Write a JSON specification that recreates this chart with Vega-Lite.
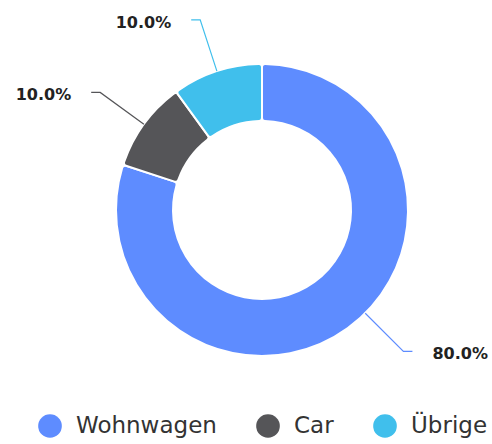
{
  "$schema": "https://vega.github.io/schema/vega-lite/v6.json",
  "width": 460,
  "height": 420,
  "autosize": {"type": "none"},
  "padding": {"left": 32, "top": 0, "right": 0, "bottom": 24},
  "background": "white",
  "config": {"view": {"stroke": null}},
  "data": {
    "values": [
      {"category": "Wohnwagen", "value": 80},
      {"category": "Car", "value": 10},
      {"category": "Übrige", "value": 10}
    ]
  },
  "transform": [
    {"calculate": "indexof(['Wohnwagen','Car','Übrige'], datum.category)", "as": "ord"},
    {"joinaggregate": [{"op": "sum", "field": "value", "as": "total"}]},
    {"window": [{"op": "sum", "field": "value", "as": "cum"}], "sort": [{"field": "ord"}], "frame": [null, 0]},
    {"calculate": "(datum.cum - datum.value / 2) / datum.total * 2 * PI", "as": "mid"},
    {"calculate": "datum.mid > PI / 2 && datum.mid < PI ? min(datum.mid, 3 * PI / 4) : datum.mid", "as": "lang"},
    {"calculate": "sin(datum.lang) >= 0 ? 1 : -1", "as": "side"},
    {"calculate": "format(datum.value / datum.total, '.1%')", "as": "pct"}
  ],
  "layer": [
    {
      "mark": {"type": "arc", "innerRadius": 89, "outerRadius": 146, "cornerRadius": 3, "stroke": "white", "strokeWidth": 2},
      "encoding": {
        "theta": {"field": "value", "type": "quantitative", "stack": true},
        "order": {"field": "ord", "type": "quantitative"},
        "color": {
          "field": "category",
          "type": "nominal",
          "sort": ["Wohnwagen", "Car", "Übrige"],
          "scale": {"domain": ["Wohnwagen", "Car", "Übrige"], "range": ["#5e8cff", "#555558", "#40bfec"]},
          "legend": {
            "orient": "none",
            "legendX": 6,
            "legendY": 414,
            "direction": "horizontal",
            "title": null,
            "symbolType": "circle",
            "symbolSize": 560,
            "symbolStrokeWidth": 0,
            "symbolOpacity": 1,
            "labelFontSize": 23,
            "labelFont": "DejaVu Sans",
            "labelColor": "#333333",
            "labelOffset": 14,
            "columnPadding": 39,
            "padding": 0
          }
        }
      }
    },
    {
      "transform": [
        {"calculate": "[0, 1, 2]", "as": "pt"},
        {"flatten": ["pt"]},
        {"calculate": "datum.pt == 0 ? 146 : 200", "as": "r"},
        {"calculate": "datum.r * sin(datum.lang) + (datum.pt == 2 ? datum.side * 9 : 0)", "as": "lx"},
        {"calculate": "datum.r * cos(datum.lang)", "as": "ly"}
      ],
      "mark": {"type": "line", "strokeWidth": 1.2},
      "encoding": {
        "x": {"field": "lx", "type": "quantitative", "scale": {"domain": [-230, 230], "nice": false, "zero": false}, "axis": null},
        "y": {"field": "ly", "type": "quantitative", "scale": {"domain": [-210, 210], "nice": false, "zero": false}, "axis": null},
        "stroke": {
          "field": "category",
          "type": "nominal",
          "scale": {"domain": ["Wohnwagen", "Car", "Übrige"], "range": ["#5e8cff", "#555558", "#40bfec"]},
          "legend": null
        },
        "detail": {"field": "category"},
        "order": {"field": "pt", "type": "quantitative"}
      }
    },
    {
      "transform": [
        {"filter": "datum.side > 0"},
        {"calculate": "200 * sin(datum.lang) + datum.side * 29", "as": "tx"},
        {"calculate": "200 * cos(datum.lang)", "as": "ty"}
      ],
      "mark": {"type": "text", "align": "left", "baseline": "middle", "dy": 3, "font": "DejaVu Sans", "fontSize": 16, "fontWeight": "bold", "color": "#222222"},
      "encoding": {
        "x": {"field": "tx", "type": "quantitative"},
        "y": {"field": "ty", "type": "quantitative"},
        "text": {"field": "pct"}
      }
    },
    {
      "transform": [
        {"filter": "datum.side < 0"},
        {"calculate": "200 * sin(datum.lang) + datum.side * 29", "as": "tx"},
        {"calculate": "200 * cos(datum.lang)", "as": "ty"}
      ],
      "mark": {"type": "text", "align": "right", "baseline": "middle", "dy": 3, "font": "DejaVu Sans", "fontSize": 16, "fontWeight": "bold", "color": "#222222"},
      "encoding": {
        "x": {"field": "tx", "type": "quantitative"},
        "y": {"field": "ty", "type": "quantitative"},
        "text": {"field": "pct"}
      }
    }
  ]
}
